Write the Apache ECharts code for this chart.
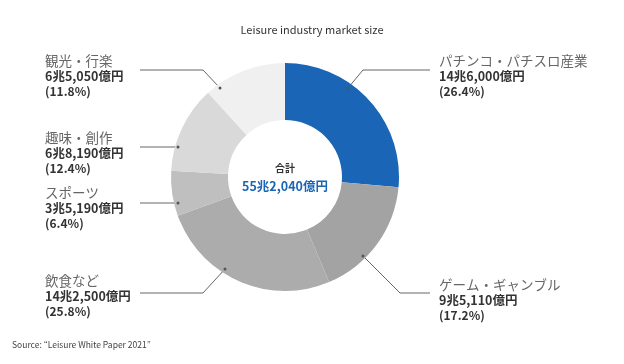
<!DOCTYPE html>
<html><head><meta charset="utf-8">
<script src="https://cdn.jsdelivr.net/npm/echarts@6/dist/echarts.min.js"></script>
<style>html,body{margin:0;padding:0;background:#fff}#c{width:624px;height:364px}</style>
</head><body><div id="c"></div>
<script>
const categories = ['パチンコ・パチスロ産業','ゲーム・ギャンブル','飲食など','スポーツ','趣味・創作','観光・行楽'];
const values = [14.6, 9.511, 14.25, 3.519, 6.819, 6.505];
const amountLabels = ['14兆6,000億円','9兆5,110億円','14兆2,500億円','3兆5,190億円','6兆8,190億円','6兆5,050億円'];
const percentLabels = ['(26.4%)','(17.2%)','(25.8%)','(6.4%)','(12.4%)','(11.8%)'];
const totalLabel = '55兆2,040億円';
const colors = ['#1a65b5','#a3a3a3','#acacac','#bfbfbf','#d9d9d9','#f0f0f0'];

const layouts = [
  {x:439, y:52,  pts:[[348,88],[363,70],[430,70]]},
  {x:439, y:276, pts:[[363,256],[400,293],[430,293]]},
  {x:45,  y:272, pts:[[225,269],[203,293],[140,293]]},
  {x:45,  y:184, pts:[[178,203],[140,203]]},
  {x:45,  y:129, pts:[[178,147],[140,147]]},
  {x:45,  y:52,  pts:[[220,88],[203,70],[140,70]]}
];

const font = '"Noto Sans CJK JP","Noto Sans",sans-serif';
const chart = echarts.init(document.getElementById('c'), null, {renderer:'canvas'});
const dots = layouts.map(L=>({type:'circle', shape:{cx:L.pts[0][0], cy:L.pts[0][1], r:1.5}, style:{fill:'#555'}, z:20, silent:true}));
chart.setOption({
  animation:false,
  title:{text:'Leisure industry market size', left:'center', top:19,
    textStyle:{fontSize:11, fontWeight:'normal', color:'#333', fontFamily:font}},
  graphic:[
    {type:'text', left:12, top:341, style:{text:'Source: “Leisure White Paper 2021”', fontSize:8.5, fill:'#444', fontFamily:font}},
    {type:'text', x:285, y:168, style:{text:'合計', fontSize:10, fontWeight:'bold', fill:'#333', align:'center', verticalAlign:'middle', fontFamily:font}, z:10},
    {type:'text', x:285, y:186, style:{text:totalLabel, fontSize:12.5, fontWeight:'bold', fill:'#1a65b5', align:'center', verticalAlign:'middle', fontFamily:font}, z:10}
  ].concat(dots),
  series:[{
    type:'pie',
    center:[285,177],
    radius:[57,114],
    startAngle:90,
    clockwise:true,
    color:colors,
    itemStyle:{borderWidth:0},
    data:categories.map((c,i)=>({name:c, value:values[i]})),
    label:{
      show:true,
      formatter:p=>'{n|'+p.name+'}\n{v|'+amountLabels[p.dataIndex]+'}\n{p|'+percentLabels[p.dataIndex]+'}',
      rich:{
        n:{fontSize:13.5, color:'#666', fontFamily:font, lineHeight:17},
        v:{fontSize:12.5, fontWeight:'bold', color:'#333', fontFamily:font, lineHeight:15},
        p:{fontSize:12, fontWeight:'bold', color:'#333', fontFamily:font, lineHeight:15}
      }
    },
    labelLine:{show:true, lineStyle:{color:'#666', width:1}, smooth:false},
    labelLayout:function(params){
      const L = layouts[params.dataIndex];
      return {x:L.x, y:L.y, align:'left', verticalAlign:'top', labelLinePoints:L.pts};
    },
    emphasis:{disabled:true}
  }]
});
</script></body></html>
